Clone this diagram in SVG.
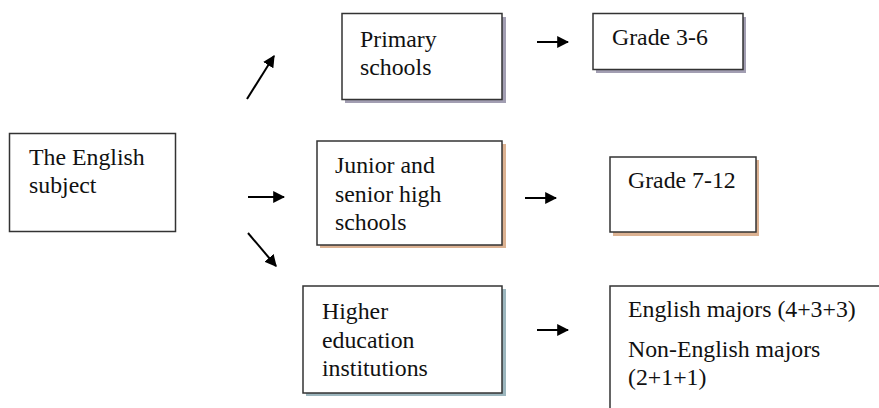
<svg xmlns="http://www.w3.org/2000/svg" width="879" height="408" viewBox="0 0 879 408">
<style>
.box{fill:#fff;stroke:#333;stroke-width:1.5}
.t{font-family:"Liberation Serif","Times New Roman",serif;font-size:23.8px;fill:#111}
.sp{fill:#a29eb2}
.st{fill:#dcb292}
.sb{fill:#9cb6be}
.c{stroke:#000;stroke-width:2;fill:none;marker-end:url(#ah)}
</style>
<defs>
<marker id="ah" viewBox="0 0 10 10" refX="9" refY="5" markerWidth="6" markerHeight="6" markerUnits="strokeWidth" orient="auto">
<path d="M0,0 L10,5 L0,10 z" fill="#000"/>
</marker>
</defs>
<rect width="879" height="408" fill="#fff"/>
<g id="connectors">
<line class="c" x1="247" y1="99" x2="274" y2="56"/>
<line class="c" x1="248" y1="197" x2="284" y2="197"/>
<line class="c" x1="248" y1="233" x2="276" y2="266"/>
<line class="c" x1="537" y1="42" x2="568" y2="42"/>
<line class="c" x1="525" y1="198" x2="556" y2="198"/>
<line class="c" x1="537" y1="330" x2="568" y2="330"/>
</g>
<g id="english-subject">
<rect class="box" x="9.5" y="133.5" width="166" height="98"/>
<text class="t" x="29" y="165">The English</text>
<text class="t" x="29" y="193">subject</text>
</g>
<g id="primary">
<rect class="sp" x="345" y="17" width="161" height="86"/>
<rect class="box" x="342" y="13.5" width="160" height="86"/>
<text class="t" x="360" y="47">Primary</text>
<text class="t" x="360" y="75">schools</text>
</g>
<g id="grade36">
<rect class="sp" x="596" y="17" width="150" height="56"/>
<rect class="box" x="593" y="13.5" width="150" height="56"/>
<text class="t" x="612" y="45">Grade 3-6</text>
</g>
<g id="junior">
<rect class="st" x="320" y="144" width="186" height="104"/>
<rect class="box" x="317" y="141" width="185" height="104"/>
<text class="t" x="335" y="173">Junior and</text>
<text class="t" x="335" y="202">senior high</text>
<text class="t" x="335" y="230">schools</text>
</g>
<g id="grade712">
<rect class="st" x="613" y="160" width="146" height="76"/>
<rect class="box" x="610" y="157" width="146" height="75"/>
<text class="t" x="628" y="188">Grade 7-12</text>
</g>
<g id="higher">
<rect class="sb" x="306" y="289" width="200" height="107"/>
<rect class="box" x="303" y="286" width="199" height="107"/>
<text class="t" x="322" y="319">Higher</text>
<text class="t" x="322" y="348">education</text>
<text class="t" x="322" y="376">institutions</text>
</g>
<g id="majors">
<rect class="box" x="610" y="286" width="280" height="140"/>
<text class="t" x="628" y="317">English majors (4+3+3)</text>
<text class="t" x="628" y="357">Non-English majors</text>
<text class="t" x="628" y="385">(2+1+1)</text>
</g>
</svg>
